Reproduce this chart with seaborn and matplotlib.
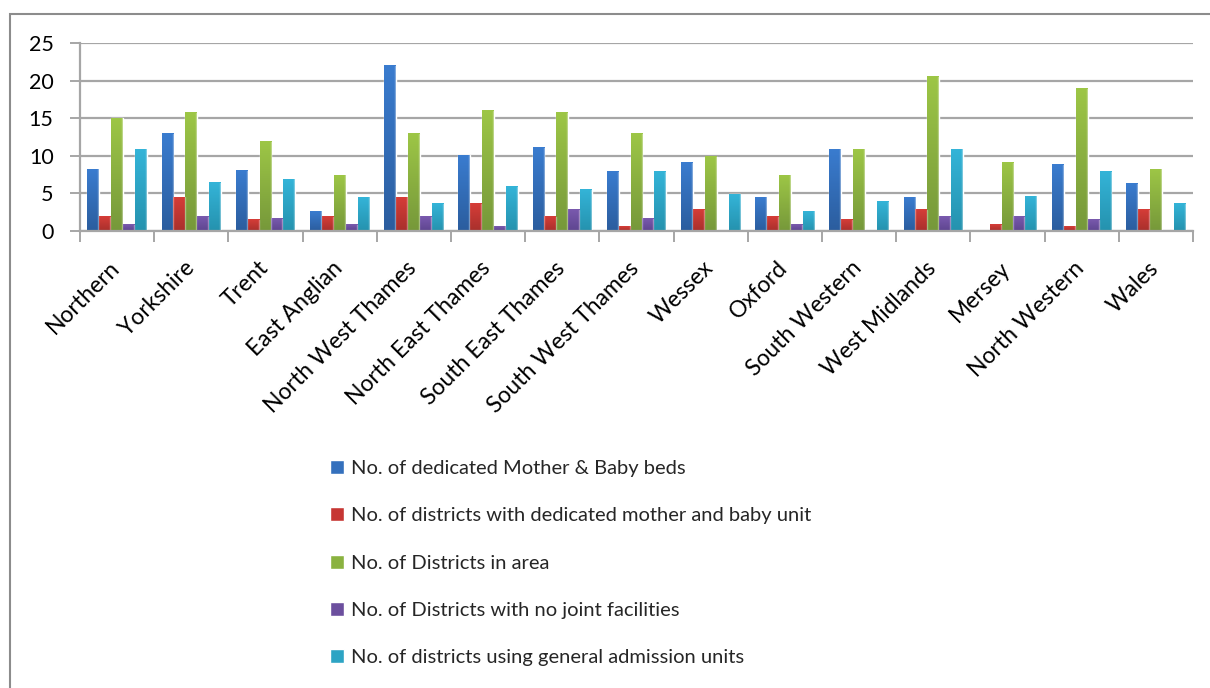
import matplotlib
matplotlib.use("Agg")
import matplotlib.pyplot as plt
import matplotlib.transforms as mtrans
from matplotlib.colors import to_rgb
import numpy as np
import seaborn as sns
import pandas as pd
from matplotlib.patches import Rectangle

regions = ["Northern", "Yorkshire", "Trent", "East Anglian", "North West Thames",
           "North East Thames", "South East Thames", "South West Thames", "Wessex",
           "Oxford", "South Western", "West Midlands", "Mersey", "North Western", "Wales"]

series_names = ["No. of dedicated Mother & Baby beds",
                "No. of districts with dedicated mother and baby unit",
                "No. of Districts in area",
                "No. of Districts with no joint facilities",
                "No. of districts using general admission units"]

beds = [8.2, 12.9, 8.0, 2.6, 22.0, 10.1, 11.1, 7.9, 9.1, 4.5, 10.9, 4.5, 0.0, 8.8, 6.3]
units = [1.9, 4.5, 1.5, 1.9, 4.5, 3.6, 1.9, 0.6, 2.8, 1.9, 1.5, 2.8, 0.8, 0.6, 2.8]
districts = [15.0, 15.7, 11.9, 7.4, 12.9, 16.0, 15.7, 12.9, 9.9, 7.4, 10.9, 20.5, 9.1, 18.9, 8.2]
no_joint = [0.8, 1.9, 1.6, 0.8, 1.9, 0.6, 2.8, 1.6, 0.0, 0.8, 0.0, 1.9, 1.9, 1.5, 0.0]
general = [10.9, 6.4, 6.9, 4.5, 3.6, 5.9, 5.5, 7.9, 4.9, 2.6, 3.9, 10.9, 4.6, 7.9, 3.6]

colors = ["#3470BD", "#C63633", "#8AB240", "#6C4F9E", "#2DA4C4"]
top_colors = ["#3A7CCF", "#D63D38", "#9DC646", "#7A5AAE", "#34B4D8"]
bottom_colors = ["#2B5D9E", "#A8302C", "#76983A", "#5E4590", "#2592AE"]

rows = []
for name, vals in zip(series_names, [beds, units, districts, no_joint, general]):
    for r, v in zip(regions, vals):
        rows.append({"region": r, "series": name, "value": v})
df = pd.DataFrame(rows)

sns.set_theme(style="white")
plt.rcParams['font.family'] = ['Lato', 'DejaVu Sans']

fig = plt.figure(figsize=(12.1, 6.88), dpi=100)
ax = fig.add_axes([80/1210, 1-231/688, (1193-80)/1210, (231-43)/688])

sns.barplot(data=df, x="region", y="value", hue="series", palette=colors,
            width=0.8, dodge=True, ax=ax, saturation=1, legend=True)

# vertical gradient overlay on each bar
for i, cont in enumerate(ax.containers):
    c_top = np.array(to_rgb(top_colors[i]))
    c_bot = np.array(to_rgb(bottom_colors[i]))
    t = np.linspace(0, 1, 64)[:, None]
    img = (c_top[None, :] * (1 - t) + c_bot[None, :] * t)[:, None, :]
    for bar in cont:
        h = bar.get_height()
        if h <= 0:
            continue
        x0, w = bar.get_x(), bar.get_width()
        ax.imshow(img, extent=[x0, x0 + w, 0, h], aspect="auto", origin="upper",
                  zorder=bar.get_zorder() + 0.1, interpolation="bilinear")
        ax.plot([x0 + w * 0.93, x0 + w * 0.93], [0, h], color="white", alpha=0.35,
                linewidth=1.0, zorder=bar.get_zorder() + 0.2)

ax.set_ylim(0, 25)
ax.set_xlim(-0.5, len(regions) - 0.5)
ax.set_aspect("auto")
ax.set_yticks([0, 5, 10, 15, 20, 25])
ax.yaxis.grid(True, color="#A6A6A6", linewidth=1.6)
ax.set_axisbelow(True)
ax.set_xlabel("")
ax.set_ylabel("")
for s in ["top", "right"]:
    ax.spines[s].set_visible(False)
for s in ["left", "bottom"]:
    ax.spines[s].set_color("#A6A6A6")
    ax.spines[s].set_linewidth(1.6)

ax.tick_params(axis="y", labelsize=15.5, length=7, width=1.4, color="#A6A6A6",
               left=True, pad=12, labelcolor="black")
ax.set_xticks(range(len(regions)))
ax.set_xticklabels(regions, rotation=45, ha="right", va="top", rotation_mode="anchor",
                   fontsize=16.5, color="black")
ax.tick_params(axis="x", length=0, pad=19)
offset = mtrans.ScaledTranslation(-8/100, 0, fig.dpi_scale_trans)
for lbl in ax.get_xticklabels():
    lbl.set_transform(lbl.get_transform() + offset)
ax.set_xticks([i - 0.5 for i in range(len(regions) + 1)], minor=True)
ax.tick_params(axis="x", which="minor", length=8, width=1.4, color="#A6A6A6", bottom=True)

handles, labels = ax.get_legend_handles_labels()
ax.get_legend().remove()
fig.legend(handles, labels, loc="upper left", bbox_to_anchor=(322/1210, 1-452/688),
           frameon=False, fontsize=14.5, labelspacing=1.5, handlelength=0.7,
           handleheight=0.7, handletextpad=0.35, borderaxespad=0)

fig.patches.append(Rectangle((10/1210, -0.01), 1.2, 1 - 14/688 + 0.01,
                             transform=fig.transFigure, fill=False,
                             edgecolor="#8C8C8C", linewidth=1.5))

fig.savefig("out.png", dpi=100)
